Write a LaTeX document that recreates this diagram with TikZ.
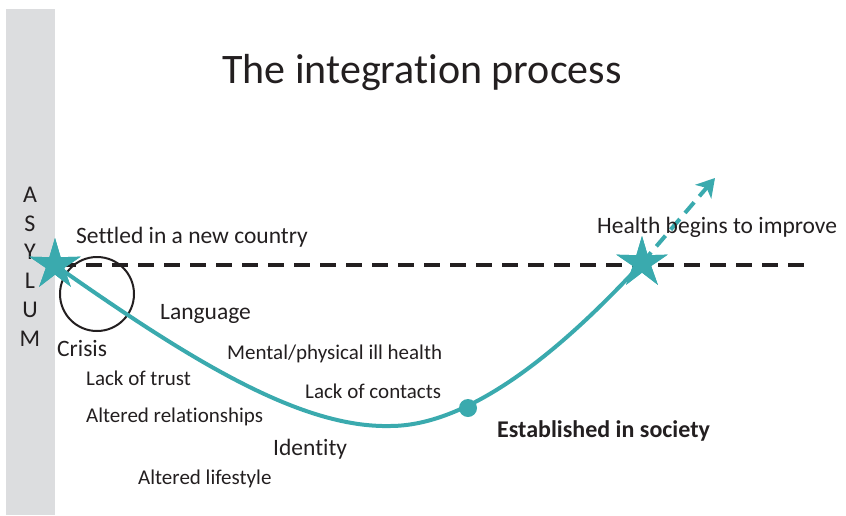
\documentclass[tikz,border=0pt]{standalone}
\usepackage{fontspec}
\setmainfont{Carlito}[Ligatures={NoCommon}]
\usetikzlibrary{shapes.geometric,arrows.meta}
\definecolor{tealc}{RGB}{58,170,174}
\definecolor{barg}{RGB}{220,221,223}
\definecolor{txt}{RGB}{35,31,32}
\begin{document}
\begin{tikzpicture}[x=1pt,y=-1pt,
  lbl/.style={anchor=base west, inner sep=0, text=txt, font=\fontsize{21}{24}\selectfont},
  biglbl/.style={anchor=base west, inner sep=0, text=txt, font=\fontsize{23.5}{27}\selectfont},
  asy/.style={anchor=base, inner sep=0, text=txt, font=\fontsize{24}{28}\selectfont},
  tealstar/.style={star, star points=5, star point ratio=2.8, minimum size=54pt, inner sep=0pt, fill=tealc, draw=none},
  curve/.style={draw=tealc, line width=4pt},
  horizon/.style={draw=txt, line width=4.5pt, dash pattern=on 16pt off 10pt},
  rise/.style={draw=tealc, line width=4pt, dash pattern=on 14pt off 8pt, -{Stealth[length=18pt, width=21pt, inset=5pt]}}]
\useasboundingbox (0,0) rectangle (846,515);
\fill[barg] (6,9) rectangle (55,515);
% title
\node[anchor=base, inner sep=0, text=txt, font=\fontsize{42}{48}\selectfont] (title) at (422,83) {The integration process};
% ASYLUM
\node[asy] (a1) at (30,202) {A};
\node[asy] (a2) at (30,231) {S};
\node[asy] (a3) at (30,259) {Y};
\node[asy] (a4) at (30,288) {L};
\node[asy] (a5) at (30,317) {U};
\node[asy] (a6) at (30,346) {M};
% horizon line
\coordinate (hl) at (60,265);
\coordinate (hr) at (810,265);
\draw[horizon] (hl) -- (hr);
% crisis circle
\node[circle, draw=txt, line width=2pt, minimum size=74pt, inner sep=0] (circ) at (97,294) {};
% key points
\coordinate (bot) at (390,426);
\coordinate (tip) at (715,178);
\node[tealstar] (ls) at (55,265) {};
\node[tealstar] (rs) at (642,263) {};
\draw[curve] (ls.center) .. controls (190,360) and (300,428) .. (bot) .. controls (480,426) and (580,330) .. (rs.center);
\draw[rise] (rs.center) -- (tip);
\node[tealstar] at (55,265) {};
\node[tealstar] at (642,263) {};
\node[circle, fill=tealc, minimum size=18pt, inner sep=0] (dot) at (468,408) {};
% labels
\node[biglbl] (settled) at (76,243) {Settled in a new country};
\node[biglbl] (lang) at (160,319) {Language};
\node[biglbl] (crisis) at (57,356) {Crisis};
\node[lbl] (mental) at (227,359) {Mental/physical ill health};
\node[lbl] (trust) at (86,385) {Lack of trust};
\node[lbl] (contacts) at (305,398) {Lack of contacts};
\node[lbl] (relat) at (86,422) {Altered relationships};
\node[biglbl] (ident) at (273,455) {Identity};
\node[lbl] (life) at (138,484) {Altered lifestyle};
\node[anchor=base west, inner sep=0, text=txt, font=\fontsize{24}{28}\selectfont\bfseries] (estab) at (497,437) {Established in society};
\node[biglbl] (health) at (597,233) {Health begins to improve};
\end{tikzpicture}
\end{document}
